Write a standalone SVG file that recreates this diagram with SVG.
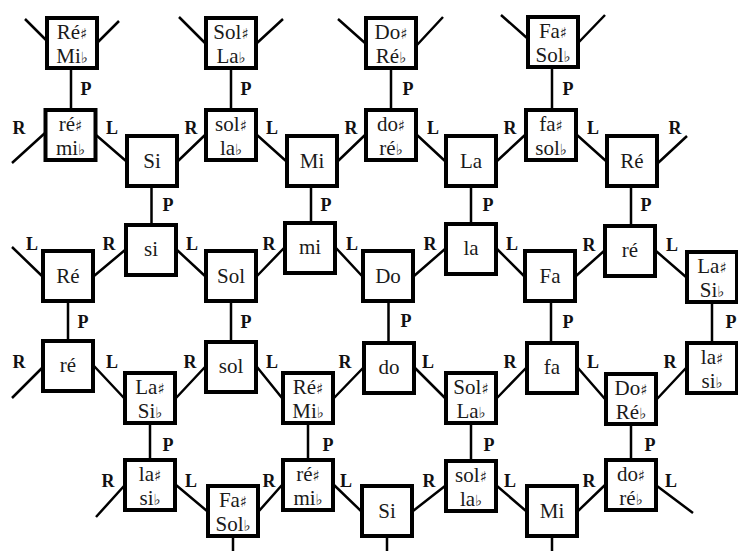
<svg xmlns="http://www.w3.org/2000/svg" width="738" height="551" viewBox="0 0 738 551">
<style>
.box{fill:#fff;stroke:#000;stroke-width:4}
.e{stroke:#000;stroke-width:2.5;fill:none;stroke-linecap:butt}
.t{font-family:"Liberation Serif",serif;font-size:21px;text-anchor:middle;fill:#1a1a1a}
.acc{font-family:"DejaVu Sans",sans-serif;font-size:15px}
.lb{font-family:"Liberation Serif",serif;font-size:18px;font-weight:bold;text-anchor:middle;fill:#111}
</style>
<rect width="738" height="551" fill="#fff"/>
<g id="connectors">
<path class="e" d="M71 68V110M231 68V110M391 68V110M552 67V110M151.5 186V225M311 186V223M471 186V224M631 186V226M68 301V341M231 301V342M388.5 301V343M551 301V343M712 302V343M150 423V460M308 423V460M471 423V461M631 424V460M233 536V551M387 536V551M552 536V551"/>
<path class="e" d="M96 135L126 161M178 161L205 135M257 135L286 161M338 161L365 135M417 135L445 161M497 161L525 135M577 135L606 161"/>
<path class="e" d="M94 276L125 250M177 250L205 276M257 276L284 248M336 248L362 276M414 276L445 249M497 249L524 276M576 276L604 251M656 251L686 277"/>
<path class="e" d="M94 366L124 398M176 398L205 367M257 367L282 398M334 398L363 368M415 368L445 398M497 398L526 368M578 368L605 399M657 399L686 368"/>
<path class="e" d="M176 485L207 511M259 511L282 485M334 485L361 511M413 511L445 486M497 486L526 511M578 511L605 485"/>
<path class="e" d="M46 40L25 19M98 42L119 21M205 43L179 17M257 43L283 19M365 43L338 19M417 45L443 17M527 38L501 15M579 42L605 15M45 133L12 163M658 163L687 136M42 276L12 247M42 368L12 398M124 486L96 517M657 486L693 513"/>
</g>
<g id="labels">
<text class="lb" x="86" y="95">P</text><text class="lb" x="246" y="95">P</text><text class="lb" x="408" y="95">P</text><text class="lb" x="568" y="95">P</text>
<text class="lb" x="168" y="211">P</text><text class="lb" x="326" y="211">P</text><text class="lb" x="488" y="211">P</text><text class="lb" x="646" y="211">P</text>
<text class="lb" x="83" y="328">P</text><text class="lb" x="246" y="328">P</text><text class="lb" x="406" y="327">P</text><text class="lb" x="568" y="328">P</text><text class="lb" x="731" y="328">P</text>
<text class="lb" x="168" y="451">P</text><text class="lb" x="328" y="451">P</text><text class="lb" x="489" y="451">P</text><text class="lb" x="650" y="451">P</text>
<text class="lb" x="19" y="134">R</text><text class="lb" x="112" y="134">L</text><text class="lb" x="191" y="134">R</text><text class="lb" x="272" y="134">L</text><text class="lb" x="351" y="134">R</text><text class="lb" x="433" y="134">L</text><text class="lb" x="510" y="134">R</text><text class="lb" x="593" y="134">L</text><text class="lb" x="675" y="134">R</text>
<text class="lb" x="32" y="250">L</text><text class="lb" x="109" y="250">R</text><text class="lb" x="192" y="250">L</text><text class="lb" x="269" y="250">R</text><text class="lb" x="352" y="250">L</text><text class="lb" x="430" y="250">R</text><text class="lb" x="512" y="250">L</text><text class="lb" x="589" y="251">R</text><text class="lb" x="672" y="251">L</text>
<text class="lb" x="19" y="368">R</text><text class="lb" x="112" y="368">L</text><text class="lb" x="190" y="368">R</text><text class="lb" x="272" y="368">L</text><text class="lb" x="345" y="368">R</text><text class="lb" x="428" y="368">L</text><text class="lb" x="510" y="368">R</text><text class="lb" x="593" y="368">L</text><text class="lb" x="670" y="368">R</text>
<text class="lb" x="108" y="487">R</text><text class="lb" x="191" y="487">L</text><text class="lb" x="269" y="487">R</text><text class="lb" x="346" y="487">L</text><text class="lb" x="429" y="487">R</text><text class="lb" x="510" y="487">L</text><text class="lb" x="589" y="487">R</text><text class="lb" x="671" y="487">L</text>
</g>
<g id="A0" transform="translate(72,43)"><rect class="box" x="-25" y="-25" width="50" height="50"/><text class="t"><tspan x="0" y="-4">Ré<tspan class="acc">♯</tspan></tspan><tspan x="0" y="20">Mi<tspan class="acc">♭</tspan></tspan></text></g>
<g id="A2" transform="translate(231,43)"><rect class="box" x="-25" y="-25" width="50" height="50"/><text class="t"><tspan x="0" y="-4">Sol<tspan class="acc">♯</tspan></tspan><tspan x="0" y="20">La<tspan class="acc">♭</tspan></tspan></text></g>
<g id="A4" transform="translate(391,43)"><rect class="box" x="-25" y="-25" width="50" height="50"/><text class="t"><tspan x="0" y="-4">Do<tspan class="acc">♯</tspan></tspan><tspan x="0" y="20">Ré<tspan class="acc">♭</tspan></tspan></text></g>
<g id="A6" transform="translate(553,42)"><rect class="box" x="-25" y="-25" width="50" height="50"/><text class="t"><tspan x="0" y="-4">Fa<tspan class="acc">♯</tspan></tspan><tspan x="0" y="20">Sol<tspan class="acc">♭</tspan></tspan></text></g>
<g id="B0" transform="translate(70.5,135)"><rect class="box" x="-25" y="-25" width="50" height="50"/><text class="t"><tspan x="0" y="-4">ré<tspan class="acc">♯</tspan></tspan><tspan x="0" y="20">mi<tspan class="acc">♭</tspan></tspan></text></g>
<g id="B2" transform="translate(231,135)"><rect class="box" x="-25" y="-25" width="50" height="50"/><text class="t"><tspan x="0" y="-4">sol<tspan class="acc">♯</tspan></tspan><tspan x="0" y="20">la<tspan class="acc">♭</tspan></tspan></text></g>
<g id="B4" transform="translate(391,135)"><rect class="box" x="-25" y="-25" width="50" height="50"/><text class="t"><tspan x="0" y="-4">do<tspan class="acc">♯</tspan></tspan><tspan x="0" y="20">ré<tspan class="acc">♭</tspan></tspan></text></g>
<g id="B6" transform="translate(551,135)"><rect class="box" x="-25" y="-25" width="50" height="50"/><text class="t"><tspan x="0" y="-4">fa<tspan class="acc">♯</tspan></tspan><tspan x="0" y="20">sol<tspan class="acc">♭</tspan></tspan></text></g>
<g id="C1" transform="translate(152,161)"><rect class="box" x="-25" y="-25" width="50" height="50"/><text class="t" y="7">Si</text></g>
<g id="C3" transform="translate(312,161)"><rect class="box" x="-25" y="-25" width="50" height="50"/><text class="t" y="7">Mi</text></g>
<g id="C5" transform="translate(471,161)"><rect class="box" x="-25" y="-25" width="50" height="50"/><text class="t" y="7">La</text></g>
<g id="C7" transform="translate(632,161)"><rect class="box" x="-25" y="-25" width="50" height="50"/><text class="t" y="7">Ré</text></g>
<g id="D1" transform="translate(151,250)"><rect class="box" x="-25" y="-25" width="50" height="50"/><text class="t" y="6">si</text></g>
<g id="D3" transform="translate(310,248)"><rect class="box" x="-25" y="-25" width="50" height="50"/><text class="t" y="6">mi</text></g>
<g id="D5" transform="translate(471,249)"><rect class="box" x="-25" y="-25" width="50" height="50"/><text class="t" y="6">la</text></g>
<g id="D7" transform="translate(630,251)"><rect class="box" x="-25" y="-25" width="50" height="50"/><text class="t" y="6">ré</text></g>
<g id="E0" transform="translate(68,276)"><rect class="box" x="-25" y="-25" width="50" height="50"/><text class="t" y="7">Ré</text></g>
<g id="E2" transform="translate(231,276)"><rect class="box" x="-25" y="-25" width="50" height="50"/><text class="t" y="7">Sol</text></g>
<g id="E4" transform="translate(388,276)"><rect class="box" x="-25" y="-25" width="50" height="50"/><text class="t" y="7">Do</text></g>
<g id="E6" transform="translate(550,276)"><rect class="box" x="-25" y="-25" width="50" height="50"/><text class="t" y="7">Fa</text></g>
<g id="E8" transform="translate(712,277)"><rect class="box" x="-25" y="-25" width="50" height="50"/><text class="t"><tspan x="0" y="-4">La<tspan class="acc">♯</tspan></tspan><tspan x="0" y="20">Si<tspan class="acc">♭</tspan></tspan></text></g>
<g id="F0" transform="translate(68,366)"><rect class="box" x="-25" y="-25" width="50" height="50"/><text class="t" y="6">ré</text></g>
<g id="F2" transform="translate(231,367)"><rect class="box" x="-25" y="-25" width="50" height="50"/><text class="t" y="6">sol</text></g>
<g id="F4" transform="translate(389,368)"><rect class="box" x="-25" y="-25" width="50" height="50"/><text class="t" y="6">do</text></g>
<g id="F6" transform="translate(552,368)"><rect class="box" x="-25" y="-25" width="50" height="50"/><text class="t" y="6">fa</text></g>
<g id="F8" transform="translate(712,368)"><rect class="box" x="-25" y="-25" width="50" height="50"/><text class="t"><tspan x="0" y="-4">la<tspan class="acc">♯</tspan></tspan><tspan x="0" y="20">si<tspan class="acc">♭</tspan></tspan></text></g>
<g id="G1" transform="translate(150,398)"><rect class="box" x="-25" y="-25" width="50" height="50"/><text class="t"><tspan x="0" y="-4">La<tspan class="acc">♯</tspan></tspan><tspan x="0" y="20">Si<tspan class="acc">♭</tspan></tspan></text></g>
<g id="G3" transform="translate(308,398)"><rect class="box" x="-25" y="-25" width="50" height="50"/><text class="t"><tspan x="0" y="-4">Ré<tspan class="acc">♯</tspan></tspan><tspan x="0" y="20">Mi<tspan class="acc">♭</tspan></tspan></text></g>
<g id="G5" transform="translate(471,398)"><rect class="box" x="-25" y="-25" width="50" height="50"/><text class="t"><tspan x="0" y="-4">Sol<tspan class="acc">♯</tspan></tspan><tspan x="0" y="20">La<tspan class="acc">♭</tspan></tspan></text></g>
<g id="G7" transform="translate(631,399)"><rect class="box" x="-25" y="-25" width="50" height="50"/><text class="t"><tspan x="0" y="-4">Do<tspan class="acc">♯</tspan></tspan><tspan x="0" y="20">Ré<tspan class="acc">♭</tspan></tspan></text></g>
<g id="H1" transform="translate(150,485)"><rect class="box" x="-25" y="-25" width="50" height="50"/><text class="t"><tspan x="0" y="-4">la<tspan class="acc">♯</tspan></tspan><tspan x="0" y="20">si<tspan class="acc">♭</tspan></tspan></text></g>
<g id="H3" transform="translate(308,485)"><rect class="box" x="-25" y="-25" width="50" height="50"/><text class="t"><tspan x="0" y="-4">ré<tspan class="acc">♯</tspan></tspan><tspan x="0" y="20">mi<tspan class="acc">♭</tspan></tspan></text></g>
<g id="H5" transform="translate(471,486)"><rect class="box" x="-25" y="-25" width="50" height="50"/><text class="t"><tspan x="0" y="-4">sol<tspan class="acc">♯</tspan></tspan><tspan x="0" y="20">la<tspan class="acc">♭</tspan></tspan></text></g>
<g id="H7" transform="translate(631,485)"><rect class="box" x="-25" y="-25" width="50" height="50"/><text class="t"><tspan x="0" y="-4">do<tspan class="acc">♯</tspan></tspan><tspan x="0" y="20">ré<tspan class="acc">♭</tspan></tspan></text></g>
<g id="I2" transform="translate(233,511)"><rect class="box" x="-25" y="-25" width="50" height="50"/><text class="t"><tspan x="0" y="-4">Fa<tspan class="acc">♯</tspan></tspan><tspan x="0" y="20">Sol<tspan class="acc">♭</tspan></tspan></text></g>
<g id="I4" transform="translate(387,511)"><rect class="box" x="-25" y="-25" width="50" height="50"/><text class="t" y="7">Si</text></g>
<g id="I6" transform="translate(552,511)"><rect class="box" x="-25" y="-25" width="50" height="50"/><text class="t" y="7">Mi</text></g>
</svg>
